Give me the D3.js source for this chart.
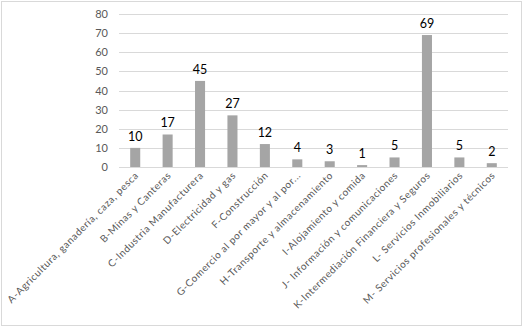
<!DOCTYPE html>
<html><head><meta charset="utf-8">
<script src="https://cdnjs.cloudflare.com/ajax/libs/d3/7.8.5/d3.min.js"></script>
<style>body{margin:0;background:#fff}svg{display:block}</style>
</head><body>
<script>
const categories = ["A-Agricultura, ganadería, caza, pesca","B-Minas y Canteras","C-Industria Manufacturera","D-Electricidad y gas","F-Construcción","G-Comercio al por mayor y al por...","H-Transporte y almacenamiento","I-Alojamiento y comida","J- Información y comunicaciones","K-Intermediación Financiera y Seguros","L- Servicios Inmobiliarios","M- Servicios profesionales y técnicos"];
const values = [10,17,45,27,12,4,3,1,5,69,5,2];
const yTicks = [0,10,20,30,40,50,60,70,80];

const W=524,H=327;
const svg=d3.select("body").append("svg").attr("width",W).attr("height",H);
svg.append("rect").attr("x",1.5).attr("y",1.5).attr("width",W-4).attr("height",H-3).attr("fill","#fff").attr("stroke","#D9D9D9");
const font="Lato, 'Open Sans', sans-serif";
const x=d3.scaleBand().domain(categories).range([119,508]).paddingInner(0.69).paddingOuter(0.345);
const y=d3.scaleLinear().domain([0,80]).range([167,14]);

svg.append("g").selectAll("line").data(yTicks).join("line")
 .attr("x1",119).attr("x2",508).attr("y1",d=>Math.round(y(d))+0.5).attr("y2",d=>Math.round(y(d))+0.5)
 .attr("stroke","#D9D9D9");
svg.append("g").selectAll("text").data(yTicks).join("text")
 .attr("x",108).attr("y",d=>y(d)+4).attr("text-anchor","end")
 .attr("font-family",font).attr("font-size",11).attr("fill","#595959").text(d=>d);

svg.append("g").selectAll("rect").data(values).join("rect")
 .attr("x",(d,i)=>x(categories[i])).attr("width",x.bandwidth())
 .attr("y",d=>y(d)).attr("height",d=>y(0)-y(d)).attr("fill","#A5A5A5");
svg.append("g").selectAll("text").data(values).join("text")
 .attr("x",(d,i)=>x(categories[i])+x.bandwidth()/2).attr("y",d=>y(d)-7)
 .attr("text-anchor","middle").attr("font-family",font).attr("font-size",12.5).attr("fill","#000").text(d=>d);

svg.append("g").selectAll("text").data(categories).join("text")
 .attr("transform",d=>`translate(${x(d)+x.bandwidth()/2+4},${176}) rotate(-45)`)
 .attr("text-anchor","end").attr("font-family",font).attr("font-size",10).attr("letter-spacing",0.55).attr("fill","#595959").text(d=>d);
</script>
</body></html>
